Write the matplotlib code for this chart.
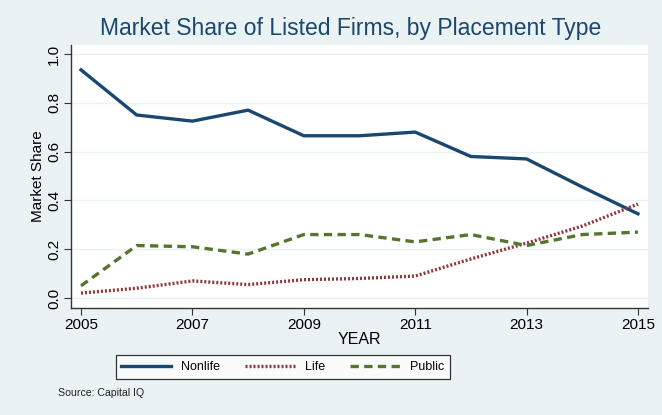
import numpy as np
import matplotlib.pyplot as plt

# Data
years = [2005, 2006, 2007, 2008, 2009, 2010, 2011, 2012, 2013, 2014, 2015]
nonlife = [0.935, 0.75, 0.725, 0.77, 0.665, 0.665, 0.68, 0.58, 0.57, 0.455, 0.345]
life = [0.02, 0.04, 0.07, 0.055, 0.075, 0.08, 0.09, 0.16, 0.225, 0.295, 0.385]
public = [0.05, 0.215, 0.21, 0.18, 0.26, 0.26, 0.23, 0.26, 0.215, 0.26, 0.27]
xticks = [2005, 2007, 2009, 2011, 2013, 2015]
yticks = [0.0, 0.2, 0.4, 0.6, 0.8, 1.0]

plt.rcParams['font.family'] = ['Liberation Sans', 'DejaVu Sans']

bg = '#eaf2f3'
fig = plt.figure(figsize=(6.62, 4.15), dpi=100, facecolor=bg)
ax = fig.add_axes([71/662, 1-308/415, (648-71)/662, (308-45)/415])
ax.set_facecolor('white')

ax.plot(years, nonlife, color='#1a476f', lw=2.4, label='Nonlife', solid_joinstyle='round')
ax.plot(years, life, color='#90353b', lw=2.4, linestyle=(0, (0.6, 0.6)), label='Life')
ax.plot(years, public, color='#55752f', lw=2.4, linestyle=(0, (2.5, 1.6)), label='Public')

ax.set_xlim(2004.82, 2015.18)
ax.set_ylim(-0.041, 1.037)
ax.set_xticks(xticks)
ax.set_xticklabels([str(x) for x in xticks], fontsize=11)
ax.set_yticks(yticks)
ax.set_yticklabels([f'{v:.1f}' for v in yticks], fontsize=11, rotation=90, va='center')
ax.yaxis.grid(True, color=bg, lw=1)
ax.set_axisbelow(True)

for s in ['top', 'right']:
    ax.spines[s].set_visible(False)
for s in ['left', 'bottom']:
    ax.spines[s].set_color('#333333')
    ax.spines[s].set_linewidth(1)
ax.tick_params(direction='out', length=5, color='#333333', pad=2)

ax.set_xlabel('YEAR', fontsize=11.5, labelpad=0)
ax.set_ylabel('Market Share', fontsize=11, labelpad=2)

fig.text(351/662, 1-28/415, 'Market Share of Listed Firms, by Placement Type',
         ha='center', va='center', fontsize=16.5, color='#1a476f')

leg = fig.legend(loc='center', bbox_to_anchor=(283/662, 1-367/415), ncol=3,
                 fontsize=9, handlelength=4, columnspacing=2.0,
                 handletextpad=0.8, frameon=True, fancybox=False,
                 borderpad=0.45)
leg.get_frame().set_edgecolor('black')
leg.get_frame().set_linewidth(0.9)

fig.text(58/662, 1-393/415, 'Source: Capital IQ', fontsize=7.6, va='center', color='#222222')

fig.savefig('out.png', dpi=100, facecolor=bg)
